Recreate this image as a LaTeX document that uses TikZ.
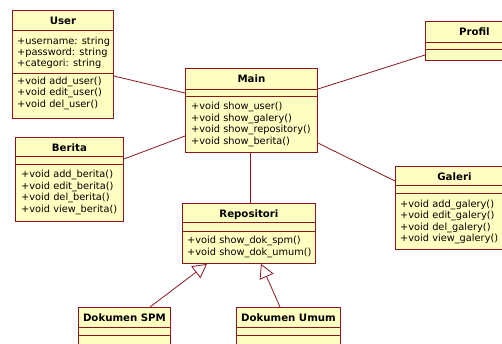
\documentclass[tikz,border=0pt]{standalone}
\usepackage{fontspec}
\setmainfont{DejaVu Sans}
\usetikzlibrary{calc,positioning,arrows.meta}
\definecolor{umlred}{RGB}{140,22,32}
\definecolor{umlfill}{RGB}{255,255,194}

\begin{document}
\begin{tikzpicture}[x=1pt,y=-1pt,
        classbox/.style={draw=umlred,fill=umlfill,line width=0.9pt,anchor=north west,inner sep=0pt},
        classname/.style={anchor=base,inner sep=0pt,font=\bfseries\fontsize{10.2}{12}\selectfont},
        member/.style={anchor=base west,inner sep=0pt,font=\fontsize{9.8}{11.5}\selectfont},
        divider/.style={draw=umlred,line width=0.9pt},
        link/.style={draw=umlred,line width=0.8pt},
        inherit/.style={link,-{Triangle[open,length=14pt,width=15pt,fill=white]}}]
                \useasboundingbox (0,0) rectangle (502,343);
                \clip (0,0) rectangle (502,343);
                \fill[white] (0,0) rectangle (502,343);
                % User
                \node[classbox,minimum width=101pt,minimum height=108pt] (user) at (12,10) {};
                \node[classname] (user-t) at ($(user.north)+(0,14)$) {User};
                \draw[divider] ($(user.north west)+(0,20)$) -- ($(user.north east)+(0,20)$);
                \draw[divider] ($(user.north west)+(0,63)$) -- ($(user.north east)+(0,63)$);
                \foreach \m [count=\i] in {+username: string,+password: string,+categori: string}
                    \node[member] (user-a\i) at ($(user.north west)+(5,23+11*\i)$) {\m};
                \foreach \m [count=\i] in {+void add\_user(),+void edit\_user(),+void del\_user()}
                    \node[member] (user-m\i) at ($(user.north west)+(5,62.5+11.5*\i)$) {\m};
                % Main
                \node[classbox,minimum width=132pt,minimum height=84pt] (main) at (185,68) {};
                \node[classname] (main-t) at ($(main.north)+(0,14)$) {Main};
                \draw[divider] ($(main.north west)+(0,21)$) -- ($(main.north east)+(0,21)$);
                \draw[divider] ($(main.north west)+(0,28)$) -- ($(main.north east)+(0,28)$);
                \foreach \m [count=\i] in {+void show\_user(),+void show\_galery(),+void show\_repository(),+void show\_berita()}
                    \node[member] (main-m\i) at ($(main.north west)+(6,30+11.5*\i)$) {\m};
                % Berita
                \node[classbox,minimum width=108pt,minimum height=84pt] (berita) at (15,137) {};
                \node[classname] (berita-t) at ($(berita.north)+(0,14)$) {Berita};
                \draw[divider] ($(berita.north west)+(0,19)$) -- ($(berita.north east)+(0,19)$);
                \draw[divider] ($(berita.north west)+(0,27)$) -- ($(berita.north east)+(0,27)$);
                \foreach \m [count=\i] in {+void add\_berita(),+void edit\_berita(),+void del\_berita(),+void view\_berita()}
                    \node[member] (berita-m\i) at ($(berita.north west)+(6,29+11.5*\i)$) {\m};
                % Profil
                \node[classbox,minimum width=98pt,minimum height=39pt] (profil) at (425,21) {};
                \node[classname] (profil-t) at ($(profil.north)+(0,14)$) {Profil};
                \draw[divider] ($(profil.north west)+(0,21)$) -- ($(profil.north east)+(0,21)$);
                \draw[divider] ($(profil.north west)+(0,28)$) -- ($(profil.north east)+(0,28)$);
                % Galeri
                \node[classbox,minimum width=118pt,minimum height=83pt] (galeri) at (395,166) {};
                \node[classname] (galeri-t) at ($(galeri.north)+(0,14)$) {Galeri};
                \draw[divider] ($(galeri.north west)+(0,19)$) -- ($(galeri.north east)+(0,19)$);
                \draw[divider] ($(galeri.north west)+(0,27)$) -- ($(galeri.north east)+(0,27)$);
                \foreach \m [count=\i] in {+void add\_galery(),+void edit\_galery(),+void del\_galery(),+void view\_galery()}
                    \node[member] (galeri-m\i) at ($(galeri.north west)+(5,29.5+11.5*\i)$) {\m};
                % Repositori
                \node[classbox,minimum width=133pt,minimum height=60pt] (repo) at (182,203) {};
                \node[classname] (repo-t) at ($(repo.north)+(0,14)$) {Repositori};
                \draw[divider] ($(repo.north west)+(0,19)$) -- ($(repo.north east)+(0,19)$);
                \draw[divider] ($(repo.north west)+(0,28)$) -- ($(repo.north east)+(0,28)$);
                \foreach \m [count=\i] in {+void show\_dok\_spm(),+void show\_dok\_umum()}
                    \node[member] (repo-m\i) at ($(repo.north west)+(5,29+11.5*\i)$) {\m};
                % Dokumen
                \node[classbox,minimum width=92pt,minimum height=50pt] (spm) at (78,307) {};
                \node[classname] (spm-t) at ($(spm.north)+(0,14)$) {Dokumen SPM};
                \draw[divider] ($(spm.north west)+(0,20)$) -- ($(spm.north east)+(0,20)$);
                \draw[divider] ($(spm.north west)+(0,28)$) -- ($(spm.north east)+(0,28)$);
                \node[classbox,minimum width=104pt,minimum height=50pt] (umum) at (236,307) {};
                \node[classname] (umum-t) at ($(umum.north)+(0,14)$) {Dokumen Umum};
                \draw[divider] ($(umum.north west)+(0,20)$) -- ($(umum.north east)+(0,20)$);
                \draw[divider] ($(umum.north west)+(0,28)$) -- ($(umum.north east)+(0,28)$);
                % connectors
                \draw[link] ($(user.north east)+(0,66)$) -- ($(main.north west)+(0,25)$);
                \draw[link] ($(berita.north east)+(0,22)$) -- ($(main.north west)+(0,68)$);
                \draw[link] ($(main.north east)+(0,21)$) -- ($(profil.north west)+(0,34)$);
                \draw[link] ($(main.north east)+(0,75)$) -- ($(galeri.north west)+(0,15)$);
                \draw[link] ($(main.south)+(-1,0)$) -- ($(repo.north)+(1.5,0)$);
                \draw[inherit] ($(spm.north west)+(72,0)$) -- ($(repo.south west)+(25,0)$);
                \draw[inherit] ($(umum.north west)+(44,0)$) -- ($(repo.south west)+(79,0)$);
            \end{tikzpicture}
\end{document}
